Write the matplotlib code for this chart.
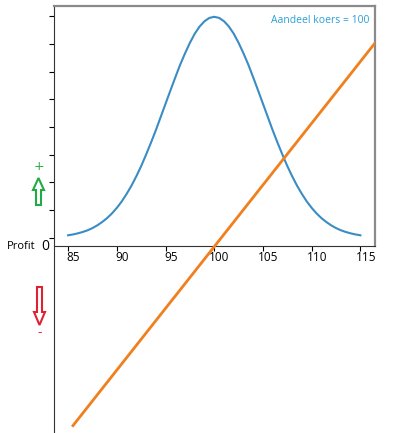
"""
# Option payoff sketch: price distribution around 100 with the profit line
"""

### Packages
import matplotlib
matplotlib.use("Agg")
import matplotlib.pyplot as plt
from matplotlib.patches import FancyArrow
from matplotlib.transforms import IdentityTransform

### Data
# Share price axis (half steps) and the density
prices = [85, 85.5, 86, 86.5, 87, 87.5, 88, 88.5, 89, 89.5, 90, 90.5, 91, 91.5,
          92, 92.5, 93, 93.5, 94, 94.5, 95, 95.5, 96, 96.5, 97, 97.5, 98, 98.5,
          99, 99.5, 100, 100.5, 101, 101.5, 102, 102.5, 103, 103.5, 104, 104.5,
          105, 105.5, 106, 106.5, 107, 107.5, 108, 108.5, 109, 109.5, 110, 110.5,
          111, 111.5, 112, 112.5, 113, 113.5, 114, 114.5, 115]
density = [0.0009, 0.0012, 0.0016, 0.0021, 0.0027, 0.0035, 0.0045, 0.0057,
           0.0071, 0.0088, 0.0108, 0.0131, 0.0158, 0.0188, 0.0222, 0.0259,
           0.0300, 0.0343, 0.0388, 0.0436, 0.0484, 0.0532, 0.0579, 0.0625,
           0.0666, 0.0704, 0.0737, 0.0763, 0.0782, 0.0794, 0.0798,
           0.0794, 0.0782, 0.0763, 0.0737, 0.0704, 0.0666, 0.0625, 0.0579,
           0.0532, 0.0484, 0.0436, 0.0388, 0.0343, 0.0300, 0.0259, 0.0222,
           0.0188, 0.0158, 0.0131, 0.0108, 0.0088, 0.0071, 0.0057, 0.0045,
           0.0035, 0.0027, 0.0021, 0.0016, 0.0012, 0.0009]
# Profit line (runs past the right edge and gets clipped)
line_prices = [85.5, 118]
line_profit = [-14.5, 18]
x_ticks = [85, 90, 95, 100, 105, 110, 115]
y_ticks = [0.0, 0.01, 0.02, 0.03, 0.04, 0.05, 0.06, 0.07, 0.08]
label_text = "Aandeel koers = 100"

### Figure
W, H = 399, 433
fig = plt.figure(figsize=(W / 100, H / 100), dpi=100)
ax = fig.add_axes([53.5 / W, 0.0, (375 - 53.5) / W, 1 - 6 / H])

ax.plot(prices, density, color="#3a8cc4", lw=1.5)
ax.set_xlim(83.5, 116.5)
ax.set_ylim(-0.0705, 0.0837)
zero = -0.0031

# Spines: box on top, x axis at zero, left spine full height
ax.spines["bottom"].set_position(("data", zero))
ax.spines["right"].set_bounds(zero, 0.0837)
for s in ["top", "right"]:
    ax.spines[s].set_color("#8a8a8a")
    ax.spines[s].set_linewidth(1.6)
ax.spines["left"].set_color("#333333")
ax.spines["bottom"].set_color("#333333")

ax.set_xticks(x_ticks)
ax.set_xticklabels([])
# tick labels drawn by hand: they sit a bit right of their ticks in the reference
for t in x_ticks:
    ax.annotate(str(t), (t, zero), xytext=(3.8, -3.5), textcoords="offset points",
                ha="center", va="top", fontsize=8.5, family="Open Sans")
ax.set_yticks(y_ticks)
ax.set_yticklabels([])
ax.tick_params(axis="both", length=3.5, width=0.8)

ax.text(0.983, 0.978, label_text, transform=ax.transAxes, ha="right", va="top",
        color="#2aa0d6", fontsize=7.5, family="Open Sans")

# Profit line on its own scale
ax2 = ax.twinx()
ax2.plot(line_prices, line_profit, color="#f07f1e", lw=2)
ax2.set_ylim(-15.1, 19.5)
ax2.axis("off")

# Annotations on the left
fig.text(7 / W, 1 - 247 / H, "Profit", fontsize=8, family="Open Sans", va="center")
fig.text(45.5 / W, 1 - 246 / H, "0", fontsize=10, family="Open Sans", va="center", ha="center")
fig.text(38.5 / W, 1 - 167 / H, "+", fontsize=9, color="#22aa44", ha="center", va="center")
fig.text(39.5 / W, 1 - 333 / H, "-", fontsize=9, color="#dd2233", ha="center", va="center")

up = FancyArrow(38.5, H - 205, 0, 27, width=5, head_width=11, head_length=12,
                length_includes_head=True, fill=False, edgecolor="#22aa44", lw=1.5,
                transform=IdentityTransform())
down = FancyArrow(39.5, H - 287, 0, -38, width=5, head_width=11, head_length=13,
                  length_includes_head=True, fill=False, edgecolor="#dd2233", lw=1.5,
                  transform=IdentityTransform())
fig.patches.extend([up, down])

plt.savefig("out.png", dpi=100)
plt.close()
